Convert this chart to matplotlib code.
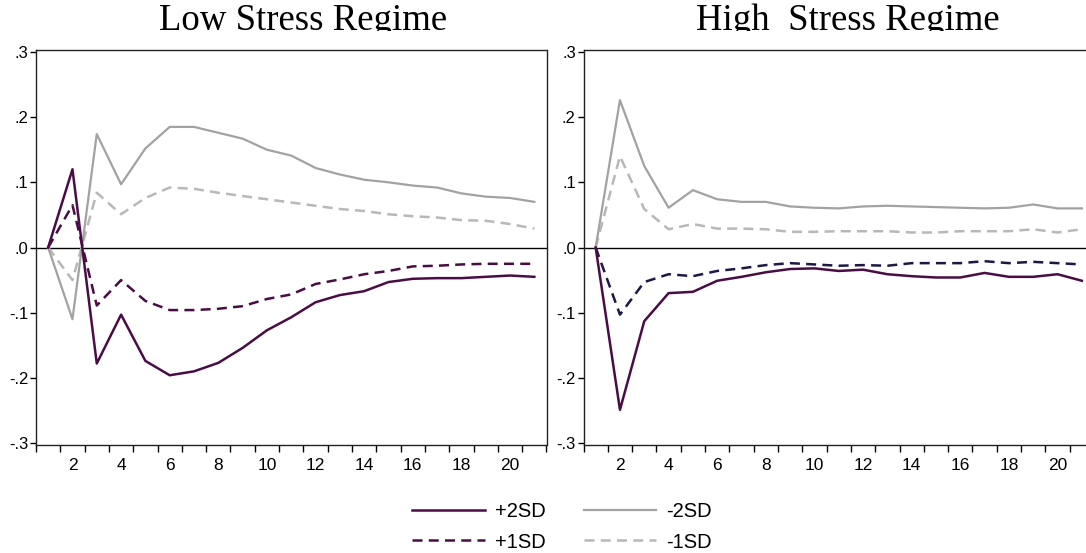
import numpy as np
import matplotlib
matplotlib.use("Agg")
import matplotlib.pyplot as plt
from matplotlib.lines import Line2D
from matplotlib.transforms import Bbox, TransformedBbox

# periods 1..21
periods = np.arange(1, 22)

# Low stress regime responses
low_p2 = [0, 0.120, -0.178, -0.103, -0.174, -0.196, -0.190, -0.177, -0.154, -0.127, -0.107,
          -0.084, -0.073, -0.067, -0.053, -0.048, -0.047, -0.047, -0.045, -0.043, -0.045]
low_p1 = [0, 0.065, -0.089, -0.050, -0.082, -0.096, -0.096, -0.094, -0.090, -0.079, -0.072,
          -0.056, -0.049, -0.041, -0.036, -0.029, -0.028, -0.026, -0.025, -0.025, -0.025]
low_m2 = [0, -0.110, 0.174, 0.097, 0.152, 0.185, 0.185, 0.176, 0.167, 0.150, 0.141,
          0.122, 0.112, 0.104, 0.100, 0.095, 0.092, 0.083, 0.078, 0.076, 0.070]
low_m1 = [0, -0.050, 0.084, 0.051, 0.076, 0.092, 0.090, 0.084, 0.079, 0.074, 0.069,
          0.064, 0.059, 0.056, 0.051, 0.048, 0.046, 0.042, 0.041, 0.036, 0.029]

# High stress regime responses
high_p2 = [0, -0.249, -0.113, -0.070, -0.068, -0.051, -0.045, -0.038, -0.033, -0.032, -0.036,
           -0.034, -0.041, -0.044, -0.046, -0.046, -0.039, -0.045, -0.045, -0.041, -0.051]
high_p1 = [0, -0.103, -0.053, -0.041, -0.044, -0.036, -0.032, -0.027, -0.024, -0.026, -0.028,
           -0.027, -0.028, -0.024, -0.024, -0.024, -0.021, -0.024, -0.022, -0.024, -0.026]
high_m2 = [0, 0.226, 0.125, 0.061, 0.088, 0.074, 0.070, 0.070, 0.063, 0.061, 0.060,
           0.063, 0.064, 0.063, 0.062, 0.061, 0.060, 0.061, 0.066, 0.060, 0.060]
high_m1 = [0, 0.140, 0.059, 0.028, 0.036, 0.029, 0.029, 0.028, 0.024, 0.024, 0.025,
           0.025, 0.025, 0.023, 0.023, 0.025, 0.025, 0.025, 0.028, 0.023, 0.028]

titles = ["Low Stress Regime", "High  Stress Regime"]
yticks = [0.3, 0.2, 0.1, 0.0, -0.1, -0.2, -0.3]
ytick_labels = [".3", ".2", ".1", ".0", "-.1", "-.2", "-.3"]
xlabel_ticks = [2, 4, 6, 8, 10, 12, 14, 16, 18, 20]

purple = "#4a0c45"
navy = "#1e1748"
gray2 = "#a2a2a2"
gray1 = "#b8b8b8"

tick_font = ["Liberation Sans Narrow", "Liberation Sans", "DejaVu Sans"]

fig = plt.figure(figsize=(10.86, 5.53), dpi=100)
W, H = 1086, 553

panels = [
    (36, low_p2, low_p1, low_m2, low_m1, purple, 303),
    (583.5, high_p2, high_p1, high_m2, high_m1, navy, 848),
]

for i, (left_px, p2, p1, m2, m1, dash_col, title_x) in enumerate(panels):
    ax = fig.add_axes([left_px / W, (H - 445) / H, 510.5 / W, 395 / H])
    ax.axhline(0, color="black", lw=1.0, zorder=1)
    ax.plot(periods, m1, color=gray1, lw=1.8, ls=(0, (4, 2.5)))
    ax.plot(periods, m2, color=gray2, lw=1.6)
    ax.plot(periods, p1, color=dash_col, lw=1.8, ls=(0, (4, 2.5)))
    ax.plot(periods, p2, color=purple, lw=1.8)
    ax.set_xlim(0.5, 21.5)
    ax.set_ylim(-0.303, 0.303)
    ax.set_yticks(yticks)
    ax.set_yticklabels(ytick_labels, family=tick_font, fontsize=12)
    ax.tick_params(axis="y", direction="out", length=4, width=1, pad=1.5)
    # tick marks between periods, labels on even periods
    ax.set_xticks(np.arange(0.5, 22, 1.0), minor=True)
    ax.set_xticks(xlabel_ticks)
    ax.set_xticklabels([str(v) for v in xlabel_ticks], family=tick_font, fontsize=12.5)
    ax.tick_params(axis="x", which="major", length=0, pad=9)
    ax.tick_params(axis="x", which="minor", direction="out", length=5, width=1)
    for s in ax.spines.values():
        s.set_linewidth(1.0)
        s.set_color("#222222")

    t = fig.text(title_x / W, 1 - 30 / H, titles[i], ha="center", va="baseline",
                 family=["Liberation Serif", "DejaVu Serif"], fontsize=26.5)
    t.set_clip_box(TransformedBbox(Bbox([[0, 1 - 31 / H], [1, 1]]), fig.transFigure))
    t.set_clip_on(True)

handles = [
    Line2D([], [], color=purple, lw=1.8),
    Line2D([], [], color=purple, lw=1.8, ls=(0, (4, 2.5))),
    Line2D([], [], color=gray2, lw=1.6),
    Line2D([], [], color=gray1, lw=1.8, ls=(0, (4, 2.5))),
]
labels = ["+2SD", "+1SD", "-2SD", "-1SD"]
fig.legend(handles, labels, ncol=2, loc="center", bbox_to_anchor=(562 / W, 1 - 527 / H),
           frameon=False, prop={"family": ["Liberation Sans", "DejaVu Sans"], "size": 14.5},
           handlelength=3.6, handletextpad=0.5, columnspacing=1.9, labelspacing=0.55,
           borderpad=0, borderaxespad=0)

fig.savefig("out.png", dpi=100)
